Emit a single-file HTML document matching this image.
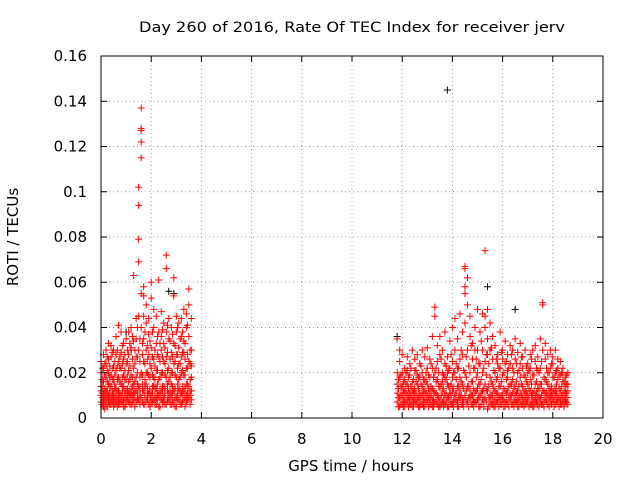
<!DOCTYPE html>
<html><head><meta charset="utf-8"><style>
body{margin:0;background:#fff;}
svg{display:block;font-family:"DejaVu Sans","Liberation Sans",sans-serif;}
</style></head><body>
<svg id="chart" width="640" height="480">
<rect width="640" height="480" fill="#fff"/>
<text x="352" y="32" font-size="14" text-anchor="middle" textLength="426" lengthAdjust="spacingAndGlyphs">Day 260 of 2016, Rate Of TEC Index for receiver jerv</text>
<g id="grid"></g>
<g id="marks"></g>
<rect x="101" y="56" width="502" height="362" fill="none" stroke="#000" stroke-width="1"/>
<g id="axes"></g>
<text x="351" y="471" font-size="15" text-anchor="middle">GPS time / hours</text>
<text x="18" y="237" font-size="15" text-anchor="middle" transform="rotate(-90 18 237)">ROTI / TECUs</text>
</svg>
<script>
const xTicks=[0,2,4,6,8,10,12,14,16,18,20];
const yTicks=[0,0.02,0.04,0.06,0.08,0.1,0.12,0.14,0.16];
const yTickLabels=["0","0.02","0.04","0.06","0.08","0.1","0.12","0.14","0.16"];
const epochs1=[0.0,0.1,0.2,0.3,0.4,0.5,0.6,0.7,0.8,0.9,1.0,1.1,1.2,1.3,1.4,1.5,1.6,1.7,1.8,1.9,2.0,2.1,2.2,2.3,2.4,2.5,2.6,2.7,2.8,2.9,3.0,3.1,3.2,3.3,3.4,3.5,3.6];
const roti1=[[10,14,20,7,25,12],[8,16,28,11,5,22],[12,30,9,18,6,24],[15,7,26,33,10,20],[9,19,32,6,14,27],[11,23,5,30,17,8],[13,36,7,21,10,28],[6,18,41,12,25,9],[10,29,15,38,7,22],[14,8,33,19,26,5],[9,24,12,35,17,6],[16,7,28,11,38,21],[10,31,6,19,40,13],[8,22,63,15,34,11],[12,27,7,44,18,35],[94,79,69,102,30,14,8,45],[137,128,127,122,115,55,40,20,9],[58,54,45,25,12,6,35],[42,20,8,30,15,50],[11,28,44,6,19,37],[60,53,22,10,31,7],[14,40,8,26,18,48],[9,33,21,6,45,13],[61,17,38,10,27,5],[12,30,8,47,20,36],[7,25,42,14,33,9],[72,66,18,6,38,27],[11,44,22,8,35,16],[15,29,6,40,20,10],[62,54,12,33,7,24],[9,38,18,28,5,45],[13,24,42,8,31,17],[6,36,20,11,44,27],[12,29,8,48,19,34],[10,40,22,7,46,15],[57,50,25,9,36,14],[8,30,18,44,12,23]];
const epochs1b=[0.05,0.15,0.25,0.35,0.45,0.55,0.65,0.75,0.85,0.95,1.05,1.15,1.25,1.35,1.45,1.55,1.65,1.75,1.85,1.95,2.05,2.15,2.25,2.35,2.45,2.55,2.65,2.75,2.85,2.95,3.05,3.15,3.25,3.35,3.45,3.55];
const roti1b=[[6,11,17,22,9,14],[7,13,19,24,10,4],[5,12,16,21,27,9],[8,14,18,23,6,11],[7,12,17,22,29,10],[6,15,19,25,9,13],[8,12,17,23,30,5],[6,11,16,22,27,9],[7,14,18,24,11,32],[5,12,17,21,28,9],[8,13,19,25,10,30],[6,11,17,23,33,9],[7,14,18,26,10,36],[5,12,16,24,30,9],[8,15,20,27,11,40],[6,13,18,25,35,10],[7,12,19,28,33,15],[6,14,17,24,38,10],[8,13,20,26,32,11],[5,12,18,24,34,9],[7,14,19,27,38,11],[6,13,17,23,30,9],[8,15,21,28,36,11],[5,12,18,25,33,9],[7,14,20,27,39,11],[6,13,19,24,31,10],[8,15,21,29,41,12],[6,12,18,26,34,9],[7,14,20,27,37,11],[5,13,19,25,32,9],[8,15,22,28,40,11],[6,12,18,24,35,10],[7,14,21,29,38,11],[5,13,19,26,33,9],[8,15,22,28,41,11],[6,12,17,24,30,10]];
const epochs2=[11.8,11.9,12.0,12.1,12.2,12.3,12.4,12.5,12.6,12.7,12.8,12.9,13.0,13.1,13.2,13.3,13.4,13.5,13.6,13.7,13.8,13.9,14.0,14.1,14.2,14.3,14.4,14.5,14.6,14.7,14.8,14.9,15.0,15.1,15.2,15.3,15.4,15.5,15.6,15.7,15.8,15.9,16.0,16.1,16.2,16.3,16.4,16.5,16.6,16.7,16.8,16.9,17.0,17.1,17.2,17.3,17.4,17.5,17.6,17.7,17.8,17.9,18.0,18.1,18.2,18.3,18.4,18.5,18.6];
const roti2=[[7,20,11,35,15],[9,25,5,18,30],[6,14,28,10,20],[8,22,12,5,17],[10,27,7,15,21],[6,19,11,24,9],[12,5,30,16,8],[7,21,13,26,10],[9,15,6,28,19],[11,24,8,18,5],[6,20,14,30,10],[8,27,12,17,5],[10,22,7,31,15],[6,18,12,26,9],[13,36,8,22,5],[7,45,49,20,11],[10,32,6,17,25],[8,28,14,36,5],[12,20,7,30,16],[6,24,10,38,18],[9,15,27,5,20],[11,34,7,22,14],[6,25,40,12,18],[10,30,8,20,44],[7,22,14,35,5],[12,46,9,26,18],[8,38,15,28,6],[67,66,58,55,20,10,42],[62,50,14,30,7],[9,36,20,45,12],[6,26,10,33,16],[11,40,7,22,30],[8,30,13,48,20],[5,24,10,38,15],[12,46,8,30,20],[74,45,40,25,9,15],[48,35,12,28,4],[7,42,18,30,10],[10,26,6,36,15],[8,20,32,12,5],[11,28,7,18,24],[6,22,14,38,9],[10,30,8,19,26],[7,24,12,34,5],[12,18,6,28,21],[8,32,15,10,24],[6,22,11,30,17],[10,26,7,35,14],[8,20,12,29,5],[11,33,7,18,24],[6,22,14,27,9],[9,30,12,18,6],[7,24,10,20,15],[12,28,6,17,22],[8,19,11,30,5],[10,25,7,15,32],[6,21,13,27,9],[9,35,15,22,7],[51,50,30,12,6],[8,26,17,11,33],[10,20,6,28,15],[7,30,12,22,9],[11,24,8,18,27],[6,20,13,30,10],[9,26,7,17,22],[8,19,12,25,6],[10,22,7,16,20],[7,18,11,14,9],[9,15,6,12,20]];
const epochs2b=[11.85,11.95,12.05,12.15,12.25,12.35,12.45,12.55,12.65,12.75,12.85,12.95,13.05,13.15,13.25,13.35,13.45,13.55,13.65,13.75,13.85,13.95,14.05,14.15,14.25,14.35,14.45,14.55,14.65,14.75,14.85,14.95,15.05,15.15,15.25,15.35,15.45,15.55,15.65,15.75,15.85,15.95,16.05,16.15,16.25,16.35,16.45,16.55,16.65,16.75,16.85,16.95,17.05,17.15,17.25,17.35,17.45,17.55,17.65,17.75,17.85,17.95,18.05,18.15,18.25,18.35,18.45,18.55];
const roti2b=[[5,9,13,17],[6,10,14,19],[5,8,12,16],[7,11,15,20],[5,9,13,18],[6,10,14,22],[5,8,12,17],[7,11,16,21],[5,9,13,18],[6,10,15,23],[5,8,12,17],[7,11,16,20],[5,9,13,19],[6,10,14,24],[5,8,12,18],[7,11,16,22],[5,9,14,20],[6,10,15,26],[5,8,13,19],[7,11,17,23],[5,9,14,21],[6,10,15,28],[5,8,13,20],[7,11,17,24],[5,9,14,22],[6,10,16,30],[5,8,13,21],[7,12,18,27],[5,9,14,23],[6,10,16,32],[5,8,13,22],[7,12,18,26],[5,9,15,24],[6,11,17,34],[5,8,13,22],[7,12,19,28],[5,9,14,24],[6,10,16,31],[5,8,13,21],[7,11,17,26],[5,9,14,22],[6,10,16,29],[5,8,13,20],[7,11,17,25],[5,9,14,22],[6,10,15,28],[5,8,13,20],[7,11,16,24],[5,9,14,21],[6,10,15,27],[5,8,12,19],[7,11,16,23],[5,9,13,21],[6,10,15,26],[5,8,12,19],[7,11,16,22],[5,9,13,20],[6,10,15,25],[5,8,12,18],[7,11,16,22],[5,9,13,20],[6,10,14,24],[5,8,12,18],[7,11,15,21],[5,9,13,19],[6,10,14,20],[5,8,12,16],[7,11,15,19]];
const blackTimes=[1.0,1.2,2.7,2.9,11.8,13.8,15.4,16.5];
const blackRoti=[0.038,0.030,0.056,0.055,0.036,0.145,0.058,0.048];

const NS="http://www.w3.org/2000/svg";
const X0=101,X1=603,Y0=418,Y1=56;
const xScale=v=>X0+(v-0)/(20-0)*(X1-X0);
const yScale=v=>Y0-(v-0)/(0.16-0)*(Y0-Y1);
const grid=document.getElementById('grid'),axes=document.getElementById('axes'),marks=document.getElementById('marks');
function mk(tag,attrs,parent){const e=document.createElementNS(NS,tag);for(const k in attrs)e.setAttribute(k,attrs[k]);parent.appendChild(e);return e;}
xTicks.forEach((t,i)=>{
  const x=xScale(t);
  if(i>0&&i<xTicks.length-1){const g=mk('line',{x1:x,y1:Y0,x2:x,y2:Y1,stroke:'#a0a0a0','stroke-dasharray':'1,3'},grid);
  
  }
  const tk=mk('path',{d:`M${x},${Y0}v-6M${x},${Y1}v6`,stroke:'#000'},axes);
  
  
  const l=mk('text',{x:x,y:444,'font-size':15,'text-anchor':'middle'},axes);l.textContent=t;
  
  
});
yTicks.forEach((t,i)=>{
  const y=yScale(t);
  if(i>0&&i<yTicks.length-1){const g=mk('line',{x1:X0,y1:y,x2:X1,y2:y,stroke:'#a0a0a0','stroke-dasharray':'1,3'},grid);
  
  }
  const tk=mk('path',{d:`M${X0},${y}h6M${X1},${y}h-6`,stroke:'#000'},axes);
  
  
  const l=mk('text',{x:87,y:y+5,'font-size':15,'text-anchor':'end'},axes);l.textContent=yTickLabels[i];
  
  
});
function plus(t,v,color){
  const x=xScale(t),y=yScale(v);
  const p=mk('path',{d:`M${x-3.5},${y}h7M${x},${y-3.5}v7`,stroke:color,'stroke-width':1},marks);
  
  
}
function drawSet(ep,vals){ep.forEach((t,i)=>vals[i].forEach(v=>plus(t,v/1000,'#ff0000')));}
blackTimes.forEach((t,i)=>plus(t,blackRoti[i],'#000'));
drawSet(epochs1,roti1);
drawSet(epochs1b,roti1b);
drawSet(epochs2,roti2);
drawSet(epochs2b,roti2b);
</script>
</body></html>
